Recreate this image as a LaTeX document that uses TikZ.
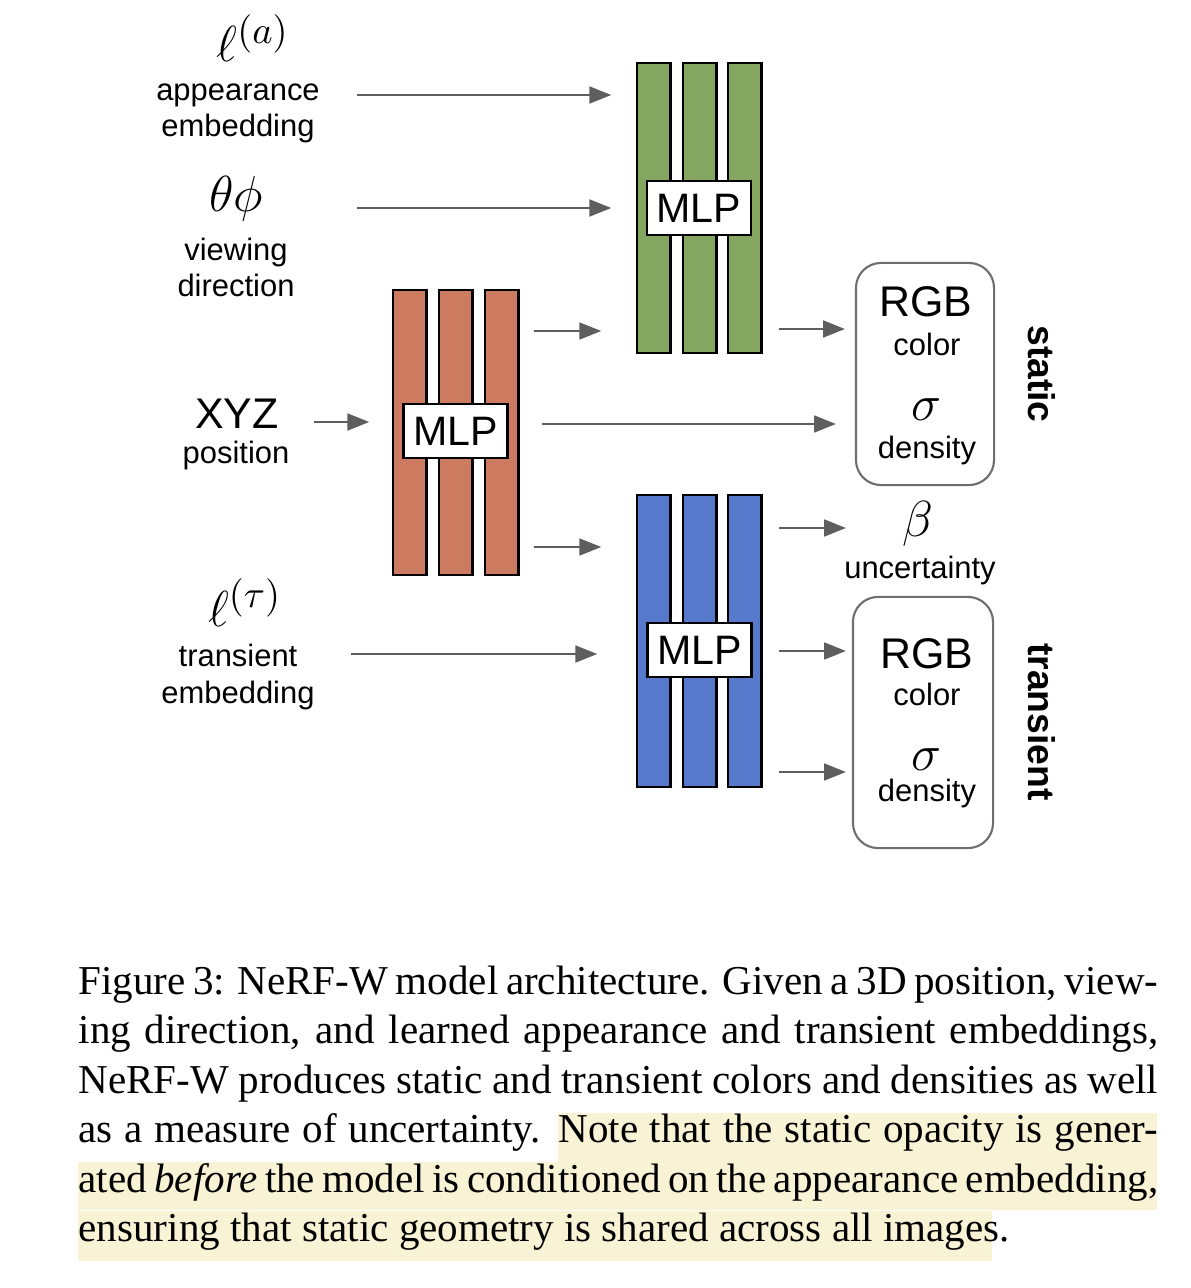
\documentclass[tikz,border=0pt]{standalone}
\usepackage[no-math]{fontspec}
\setmainfont{Liberation Serif}
\setsansfont{Liberation Sans}
\usetikzlibrary{arrows.meta}

\definecolor{mlpgreen}{HTML}{84A661}
\definecolor{mlpred}{HTML}{CD7B60}
\definecolor{mlpblue}{HTML}{5679CB}
\definecolor{arrowgray}{HTML}{5E5E5E}
\definecolor{boxgray}{HTML}{6E6E6E}
\definecolor{marker}{HTML}{F9F3D6}

\tikzset{
	flow/.style={draw=arrowgray, line width=0.6pt, -{Triangle[length=6.2pt,width=4.8pt]}},
	bar/.style={draw=black, line width=0.6pt},
	block/.style={inner sep=0pt, minimum width=1.25cm},
	mlp/.style={draw=black, fill=white, line width=0.6pt, inner sep=0pt,
		minimum width=1.04cm, minimum height=0.54cm,
		font=\sffamily\fontsize{11.7}{12}\selectfont},
	outbox/.style={draw=boxgray, line width=0.6pt, rounded corners=0.25cm, inner sep=0pt},
	lbl/.style={font=\sffamily\fontsize{8.8}{10.5}\selectfont, inner sep=0pt, anchor=base},
	big/.style={font=\sffamily\fontsize{12.2}{13}\selectfont, inner sep=0pt, anchor=base},
	sym/.style={font=\fontsize{14}{14}\selectfont, inner sep=0pt, anchor=base},
	emb/.style={sym, font=\fontsize{15.5}{16}\selectfont},
	tag/.style={font=\sffamily\bfseries\fontsize{10.6}{11}\selectfont, inner sep=0pt, rotate=-90},
}

\begin{document}
\begin{tikzpicture}[x=0.01cm, y=-0.01cm]
	\useasboundingbox (0,0) rectangle (1190,1288);
	% inputs (two-line labels sit on their last line)
	\node[emb] (ella) at (253,62) {$\ell^{(a)}$};
	\node[lbl, align=center] (app) at (238,137) {appearance\\embedding};
	\node[sym] (angles) at (236,212) {$\theta\phi$};
	\node[lbl, align=center] (view) at (236,297) {viewing\\direction};
	\node[big] (xyz) at (237,428) {XYZ};
	\node[lbl] (pos) at (236,463) {position};
	\node[emb] (ellt) at (245,626) {$\ell^{(\tau)}$};
	\node[lbl, align=center] (trans) at (238,703) {transient\\embedding};
	% the three MLPs
	\node[block, minimum height=2.9cm] (G) at (699.5,208) {};
	\node[block, minimum height=2.85cm] (R) at (455.5,432.5) {};
	\node[block, minimum height=2.92cm] (B) at (699.5,641) {};
	\foreach \x in {637,683,728} {
		\draw[bar, fill=mlpgreen] (\x,63) rectangle ++(33.5,290);
		\draw[bar, fill=mlpblue] (\x,495) rectangle ++(33.5,292);
	}
	\foreach \x in {393,439,485}
		\draw[bar, fill=mlpred] (\x,290) rectangle ++(33.5,285);
	\node[mlp] (mlpg) at (699,208) {MLP};
	\node[mlp] (mlpr) at (455.5,431) {MLP};
	\node[mlp] (mlpb) at (699.5,650) {MLP};
	% outputs
	\node[outbox, minimum width=1.38cm, minimum height=2.22cm] (S) at (925,374) {};
	\node[outbox, minimum width=1.40cm, minimum height=2.51cm] (T) at (923,722.5) {};
	\node[big] (rgbs) at (926,317) {RGB};
	\node[lbl] (cols) at (927,355) {color};
	\node[sym] (sigs) at (926,420) {$\sigma$};
	\node[lbl] (dens) at (927,458) {density};
	\node[sym] (beta) at (918,536) {$\beta$};
	\node[lbl] (unc) at (920,578) {uncertainty};
	\node[big] (rgbt) at (927,668) {RGB};
	\node[lbl] (colt) at (927,705) {color};
	\node[sym] (sigt) at (926,770) {$\sigma$};
	\node[lbl] (dent) at (927,801) {density};
	\node[tag] (stat) at (1042,374) {static};
	\node[tag] (tran) at (1042,722) {transient};
	% arrows
	\draw[flow, shorten <=0.37cm, shorten >=0.25cm] (app.east |- 0,95) -- (G.west |- 0,95);
	\draw[flow, shorten <=0.62cm, shorten >=0.25cm] (view.east |- 0,208) -- (G.west |- 0,208);
	\draw[flow, shorten <=0.35cm, shorten >=0.23cm] (xyz.east |- 0,422) -- (R.west |- 0,422);
	\draw[flow, shorten <=0.36cm, shorten >=0.39cm] (trans.east |- 0,654) -- (B.west |- 0,654);
	\draw[flow, shorten <=0.15cm, shorten >=0.35cm] (R.east |- 0,331) -- (G.west |- 0,331);
	\draw[flow, shorten <=0.23cm, shorten >=0.19cm] (R.east |- 0,424) -- (S.west |- 0,424);
	\draw[flow, shorten <=0.15cm, shorten >=0.35cm] (R.east |- 0,547) -- (B.west |- 0,547);
	\draw[flow, shorten <=0.16cm, shorten >=0.10cm] (G.east |- 0,329) -- (S.west |- 0,329);
	\draw[flow, shorten <=0.16cm, shorten >=0.09cm] (B.east |- 0,528) -- (S.west |- 0,528);
	\draw[flow, shorten <=0.16cm, shorten >=0.06cm] (B.east |- 0,651) -- (T.west |- 0,651);
	\draw[flow, shorten <=0.16cm, shorten >=0.06cm] (B.east |- 0,772) -- (T.west |- 0,772);
	% caption
	\fill[marker] (558,1113) rectangle (1157,1162);
	\fill[marker] (78,1162) rectangle (1157,1210);
	\fill[marker] (78,1211) rectangle (992,1261);
	\node[anchor=base west, inner sep=0pt, text width=10.79cm, align=justify,
		font=\fontsize{11.67}{14.1}\selectfont] (cap) at (78,994)
		{Figure 3: NeRF-W model architecture. Given a 3D position, view-\linebreak
		ing direction, and learned appearance and transient embeddings,\linebreak
		NeRF-W produces static and transient colors and densities as well\linebreak
		as a measure of uncertainty. Note that the static opacity is gener-\linebreak
		ated \emph{before} the model is conditioned on the appearance embedding,\linebreak
		ensuring that static geometry is shared across all images.};
\end{tikzpicture}
\end{document}
